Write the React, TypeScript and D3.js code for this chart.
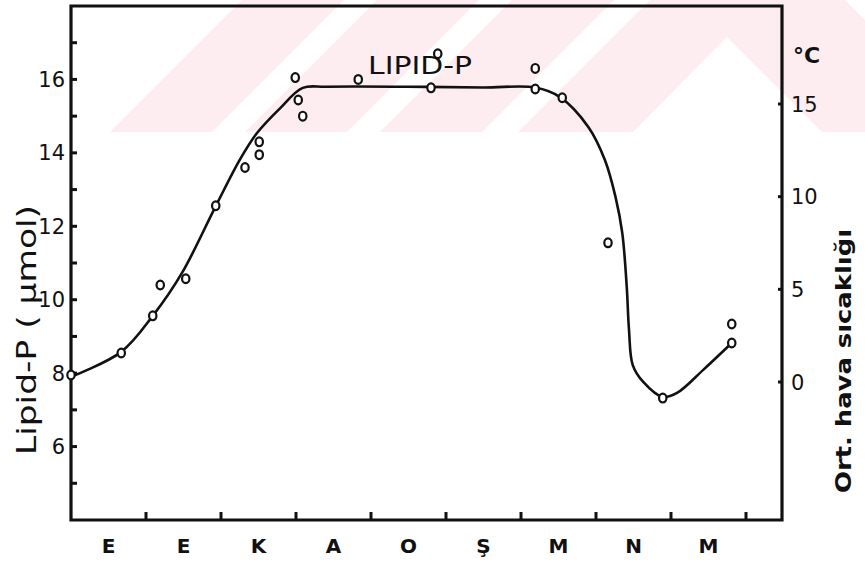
import * as d3 from "d3";

// months (Eylül .. Mayıs) – labels sit in the middle of each month interval
const months = ["E", "E", "K", "A", "O", "Ş", "M", "N", "M"];
const leftTicks = [6, 8, 10, 12, 14, 16];
const leftMinor = [5, 7, 9, 11, 13, 15, 17];
const rightTicks = [0, 5, 10, 15];

// measured points: [month position, Lipid-P µmol]
const pointMonth = [0, 0.67, 1.09, 1.19, 1.53, 1.93, 2.32, 2.51, 2.51, 2.99, 3.03, 3.09, 3.83, 4.8, 4.89, 6.19, 6.19, 6.55, 7.16, 7.89, 8.81, 8.81];
const pointValue = [7.95, 8.55, 9.56, 10.4, 10.57, 12.56, 13.6, 14.3, 13.95, 16.05, 15.44, 15.0, 16.0, 15.77, 16.7, 16.3, 15.74, 15.5, 11.55, 7.32, 9.34, 8.82];

// hand drawn fit curve
const curveMonth = [0, 0.67, 1.09, 1.48, 1.93, 2.25, 2.48, 2.79, 3.09, 3.4, 4.5, 5.5, 6.19, 6.52, 6.9, 7.12, 7.26, 7.35, 7.41, 7.44, 7.49, 7.63, 7.89, 8.08, 8.43, 8.81];
const curveValue = [7.9, 8.58, 9.56, 10.73, 12.55, 13.81, 14.54, 15.22, 15.77, 15.8, 15.8, 15.78, 15.78, 15.52, 14.7, 13.8, 12.8, 11.82, 10.35, 9.18, 8.22, 7.76, 7.35, 7.46, 8.09, 8.82];

// faint watermark bands (x + y ranges that stay white)
const whiteBands = [[-1000, 242], [344, 377], [479, 512], [614, 650]];

export default function App() {
  const W = 865, H = 567;
  const x = d3.scaleLinear().domain([0, 9.48]).range([71, 782]);
  const y = d3.scaleLinear().domain([4, 18]).range([520, 6]);
  const yr = d3.scaleLinear().domain([0, 15]).range([382, 104]);

  const line = d3.line<number>()
    .x((_, i) => x(curveMonth[i]))
    .y((d) => y(d))
    .curve(d3.curveCatmullRom.alpha(0.5));

  const ink = "#111";
  const num = { fontFamily: "DejaVu Sans, sans-serif", fontSize: 21, fill: ink };

  return (
    <svg width={W} height={H} style={{ position: "absolute", left: 0, top: 0, background: "#fff" }}>
      <defs>
        <clipPath id="wm">
          <rect x={0} y={0} width={W} height={132} />
        </clipPath>
      </defs>
      {/* watermark */}
      <g clipPath="url(#wm)">
        <rect x={0} y={0} width={W} height={132} fill="#fdedf0" />
        {whiteBands.map(([a, b], i) => (
          <polygon key={i} points={`${a},0 ${b},0 ${b - 132},132 ${a - 132},132`} fill="#fff" />
        ))}
        <polygon points="633,132 727,37 822,132" fill="#fff" />
        <polygon points="845,0 1000,0 1000,132 977,132" fill="#fff" />
      </g>

      {/* frame */}
      <path d={`M${x(0)},${y(18)} H${x(9.48)} V${y(4)} H${x(0)} Z`} fill="none" stroke={ink} strokeWidth={3.2} />

      {/* left ticks */}
      {leftTicks.concat(leftMinor).map((v) => (
        <line key={"l" + v} x1={x(0)} x2={x(0) + 6} y1={y(v)} y2={y(v)} stroke={ink} strokeWidth={3} />
      ))}
      {leftTicks.map((v) => (
        <text key={"lt" + v} x={x(0) - 6} y={y(v)} dy="0.36em" textAnchor="end" {...num}>{v}</text>
      ))}

      {/* right axis */}
      {rightTicks.map((v) => (
        <g key={"r" + v}>
          <line x1={x(9.48) - 4} x2={x(9.48)} y1={yr(v)} y2={yr(v)} stroke={ink} strokeWidth={3} />
          <text x={x(9.48) + 9} y={yr(v)} dy="0.36em" {...num}>{v}</text>
        </g>
      ))}
      <text x={793} y={63} fontFamily="DejaVu Sans, sans-serif" fontSize={22} fontWeight="bold" fill={ink}>°C</text>

      {/* bottom ticks + month labels */}
      {d3.range(1, 10).map((i) => (
        <line key={"b" + i} x1={x(i)} x2={x(i)} y1={y(4)} y2={y(4) - 8} stroke={ink} strokeWidth={3} />
      ))}
      {months.map((m, i) => (
        <text key={"m" + i} x={x(i + 0.5)} y={553} textAnchor="middle" fontFamily="DejaVu Sans, sans-serif" fontWeight="bold" fontSize={20} fill={ink}>{m}</text>
      ))}

      {/* axis titles */}
      <text transform="translate(36,330) rotate(-90)" textAnchor="middle" fontFamily="DejaVu Sans, sans-serif" fontSize={26} fill={ink} textLength={250} lengthAdjust="spacingAndGlyphs">Lipid-P ( µmol)</text>
      <text transform="translate(851,361) rotate(-90)" textAnchor="middle" fontFamily="DejaVu Sans, sans-serif" fontWeight="bold" fontSize={21} fill={ink} textLength={264} lengthAdjust="spacingAndGlyphs">Ort. hava  sıcaklığı</text>
      <text x={368} y={74} fontFamily="DejaVu Sans, sans-serif" fontSize={25} fill={ink} textLength={104} lengthAdjust="spacingAndGlyphs">LIPID-P</text>

      {/* fit curve */}
      <path d={line(curveValue) || ""} fill="none" stroke={ink} strokeWidth={2.6} strokeLinejoin="round" />

      {/* measured points */}
      {pointValue.map((v, i) => (
        <ellipse key={"p" + i} cx={x(pointMonth[i])} cy={y(v)} rx={3.7} ry={4.4} fill="#fff" stroke={ink} strokeWidth={2.2} />
      ))}
    </svg>
  );
}
